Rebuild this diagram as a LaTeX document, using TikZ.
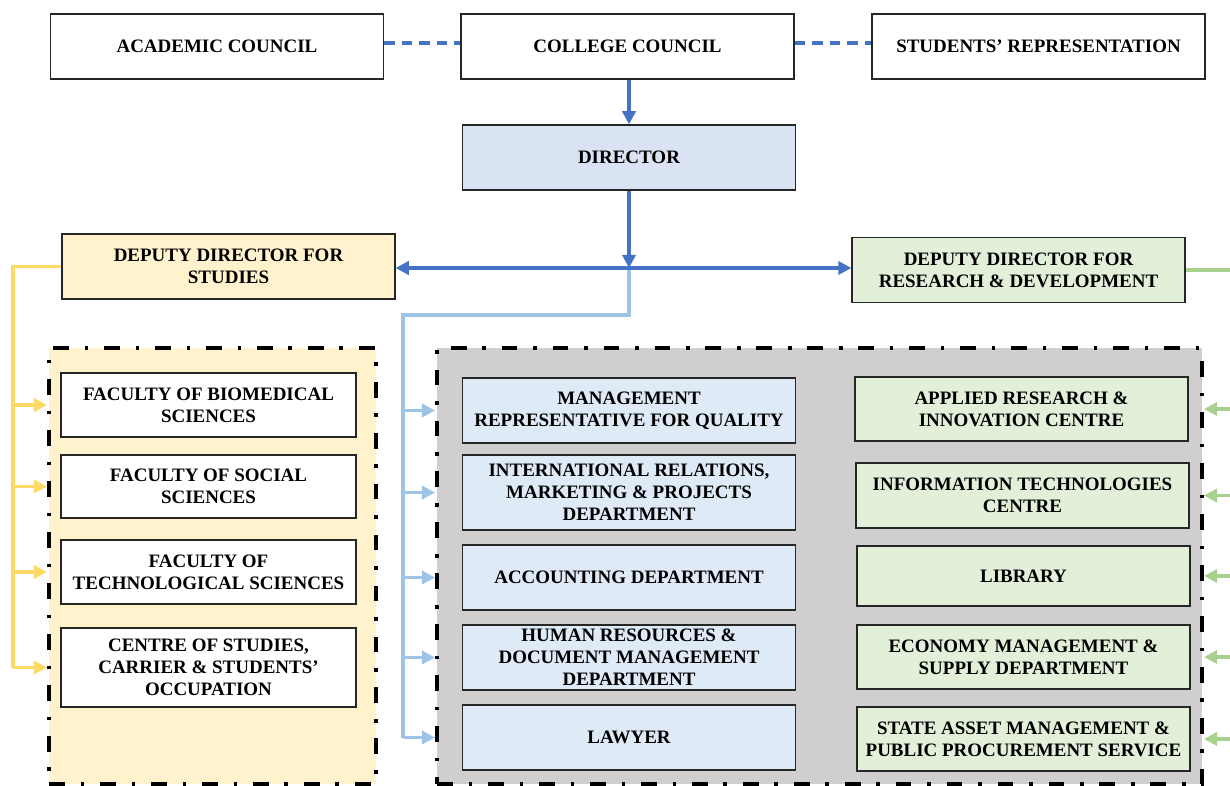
\documentclass[tikz,border=0pt]{standalone}
\usepackage{fontspec}
\setmainfont{Liberation Serif}
\usetikzlibrary{arrows.meta}

\definecolor{darkblue}{HTML}{4472C4}
\definecolor{lightline}{HTML}{9DC3E6}
\definecolor{dirfill}{HTML}{DAE3F3}
\definecolor{bluefill}{HTML}{DEEBF7}
\definecolor{yelline}{HTML}{FFD966}
\definecolor{yelfill}{HTML}{FFF2CC}
\definecolor{grnline}{HTML}{A9D18E}
\definecolor{grnfill}{HTML}{E2F0D9}
\definecolor{grayfill}{HTML}{D0CECE}

\begin{document}
\begin{tikzpicture}[x=0.02cm,y=-0.02cm,
    box/.style={draw=black!85, line width=0.7pt, inner sep=0pt, align=center,
      minimum width=6.66cm, minimum height=1.3cm,
      font=\bfseries\fontsize{10.8}{12.5}\selectfont},
    group/.style={draw=black, line width=2.3pt, inner sep=0pt,
      dash pattern=on 9pt off 9pt on 2pt off 9pt},
    tip/.style={-{Triangle[length=7.5pt,width=7.5pt]}},
    dline/.style={draw=darkblue, line width=2.1pt},
    lline/.style={draw=lightline, line width=1.9pt},
    yline/.style={draw=yelline, line width=1.9pt},
    gline/.style={draw=grnline, line width=1.9pt}]
    \useasboundingbox (0,0) rectangle (1230,785);

    % Groups
    \node[group, fill=yelfill, minimum width=6.54cm, minimum height=8.72cm] (studgrp) at (212.5,566) {};
    \node[group, fill=grayfill, minimum width=15.3cm, minimum height=8.72cm] (mgmtgrp) at (819.5,566) {};

    % Nodes
    \node[box] (acad) at (217,46.5) {ACADEMIC COUNCIL};
    \node[box] (college) at (627.5,46.5) {COLLEGE COUNCIL};
    \node[box] (students) at (1038.5,46.5) {STUDENTS’ REPRESENTATION};
    \node[box, fill=dirfill] (director) at (629,157.5) {DIRECTOR};
    \node[box, fill=yelfill] (depstud) at (228.5,266.5) {DEPUTY DIRECTOR FOR\\STUDIES};
    \node[box, fill=grnfill] (deprd) at (1018.5,270) {DEPUTY DIRECTOR FOR\\RESEARCH \& DEVELOPMENT};

    \node[box, fill=white, minimum width=5.9cm, minimum height=1.28cm] (fac1) at (208.5,405) {FACULTY OF BIOMEDICAL\\SCIENCES};
    \node[box, fill=white, minimum width=5.9cm, minimum height=1.26cm] (fac2) at (208.5,486.5) {FACULTY OF SOCIAL\\SCIENCES};
    \node[box, fill=white, minimum width=5.9cm, minimum height=1.28cm] (fac3) at (208.5,572) {FACULTY OF\\TECHNOLOGICAL SCIENCES};
    \node[box, fill=white, minimum width=5.9cm, minimum height=1.58cm] (fac4) at (208.5,667.5) {CENTRE OF STUDIES,\\CARRIER \& STUDENTS’\\OCCUPATION};

    \node[box, fill=bluefill] (quality) at (629,410.5) {MANAGEMENT\\REPRESENTATIVE FOR QUALITY};
    \node[box, fill=bluefill, minimum height=1.5cm] (intrel) at (629,492.5) {INTERNATIONAL RELATIONS,\\MARKETING \& PROJECTS\\DEPARTMENT};
    \node[box, fill=bluefill] (account) at (629,577.5) {ACCOUNTING DEPARTMENT};
    \node[box, fill=bluefill] (hr) at (629,657.5) {HUMAN RESOURCES \&\\DOCUMENT MANAGEMENT\\DEPARTMENT};
    \node[box, fill=bluefill] (lawyer) at (629,737.5) {LAWYER};

    \node[box, fill=grnfill, minimum height=1.28cm] (research) at (1021.5,409) {APPLIED RESEARCH \&\\INNOVATION CENTRE};
    \node[box, fill=grnfill] (itc) at (1022.5,495.5) {INFORMATION TECHNOLOGIES\\CENTRE};
    \node[box, fill=grnfill, minimum height=1.2cm] (library) at (1023.5,576) {LIBRARY};
    \node[box, fill=grnfill, minimum height=1.28cm] (economy) at (1023.5,657) {ECONOMY MANAGEMENT \&\\SUPPLY DEPARTMENT};
    \node[box, fill=grnfill, minimum height=1.28cm] (asset) at (1023.5,739) {STATE ASSET MANAGEMENT \&\\PUBLIC PROCUREMENT SERVICE};

    \coordinate (hub) at (629,268);
    \coordinate (lb) at (403,315);
    \coordinate (yl) at (13,0);
    \coordinate (gl) at (1240,0);
    \coordinate (dl) at (0,43);

    % Edges
    \draw[dline, dash pattern=on 6pt off 4pt] (acad.east |- dl) -- (college.west |- dl);
    \draw[dline, dash pattern=on 6pt off 4pt] (college.east |- dl) -- (students.west |- dl);
    \draw[dline, tip] (college.south -| director) -- (director.north);
    \draw[lline] (hub) |- (lb) -- (lb |- lawyer.west);
    \draw[dline, tip] (director.south) -- (hub);
    \draw[dline, tip] (hub) -- (depstud.east |- hub);
    \draw[dline, tip] (hub) -- (deprd.west |- hub);

    \draw[yline] (depstud.west) -| (yl |- fac4.west);
    \foreach \n in {fac1,fac2,fac3,fac4}
        \draw[yline, tip] (yl |- \n.west) -- (studgrp.west |- \n.west);

    \foreach \n in {quality,intrel,account,hr,lawyer}
        \draw[lline, tip] (lb |- \n.west) -- (mgmtgrp.west |- \n.west);

    \draw[gline] (deprd.east) -| (gl |- asset.east);
    \foreach \n in {research,itc,library,economy,asset}
        \draw[gline, tip] (gl |- \n.east) -- (mgmtgrp.east |- \n.east);
\end{tikzpicture}
\end{document}
